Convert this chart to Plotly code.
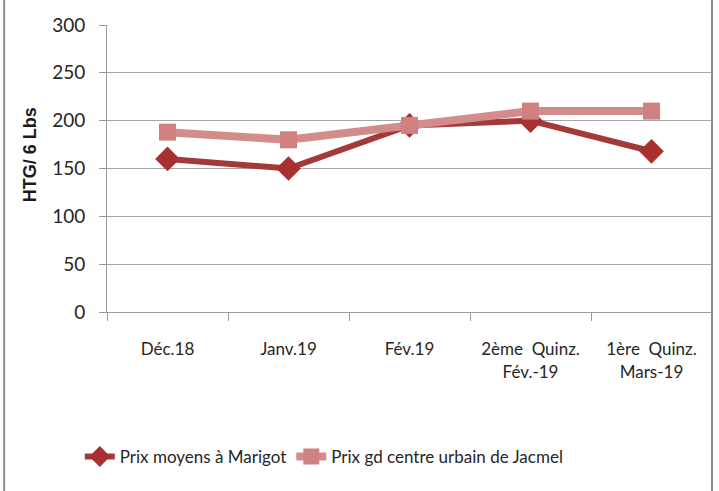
import plotly.graph_objects as go

categories = ["Déc.18", "Janv.19", "Fév.19", "2ème  Quinz.<br>Fév.-19", "1ère  Quinz.<br>Mars-19"]
prix_marigot = [160, 150, 195, 200, 168]
prix_jacmel = [188, 180, 195, 210, 210]

FONT = "Lato, Liberation Sans, sans-serif"

fig = go.Figure()
fig.add_trace(go.Scatter(
    x=categories, y=prix_marigot, name="Prix moyens à Marigot",
    mode="lines+markers",
    line=dict(color="#A33A39", width=6),
    marker=dict(symbol="diamond", size=19, color="#A8302F"),
))
fig.add_trace(go.Scatter(
    x=categories, y=prix_jacmel, name="Prix gd centre urbain de Jacmel",
    mode="lines+markers",
    line=dict(color="#D28C8C", width=8),
    marker=dict(symbol="square", size=17, color="#CF8080"),
))

fig.update_layout(
    width=719, height=491,
    margin=dict(l=107, r=7, t=25, b=179),
    plot_bgcolor="white", paper_bgcolor="white",
    font=dict(family=FONT, color="#262626", size=16),
    showlegend=True,
    legend=dict(orientation="h", x=-0.045, y=-0.505, xanchor="left", yanchor="middle",
                font=dict(size=17, family=FONT)),
    xaxis=dict(
        type="category", range=[-0.5, 4.5],
        showline=True, linecolor="#9A9A9A", linewidth=1,
        ticks="outside", tickson="boundaries", ticklen=8, tickcolor="#9A9A9A",
        showgrid=False, tickfont=dict(size=17), ticklabelstandoff=22,
    ),
    yaxis=dict(
        range=[0, 300], dtick=50,
        showline=True, linecolor="#9A9A9A", linewidth=1,
        ticks="outside", ticklen=7, tickcolor="#9A9A9A",
        showgrid=True, gridcolor="#A6A6A6", gridwidth=1,
        tickfont=dict(size=19), zeroline=False, ticklabelstandoff=10,
    ),
    annotations=[dict(text="<b>HTG/ 6 Lbs</b>", xref="paper", yref="paper",
                      x=-0.127, y=0.547, xanchor="center", yanchor="middle",
                      textangle=-90, showarrow=False,
                      font=dict(size=18, family="Liberation Sans, Arial, sans-serif", color="#1a1a1a"))],
    shapes=[dict(type="line", xref="paper", yref="paper", x0=1, x1=1, y0=-0.63, y1=1.09,
                 line=dict(color="#8C8C8C", width=2)),
            dict(type="line", xref="paper", yref="paper", x0=-0.17, x1=-0.17, y0=-0.63, y1=1.09,
                 line=dict(color="#8C8C8C", width=2))],
)

fig.write_html("out.html", config={"displayModeBar": False},
               post_script="document.body.style.margin='0';")
